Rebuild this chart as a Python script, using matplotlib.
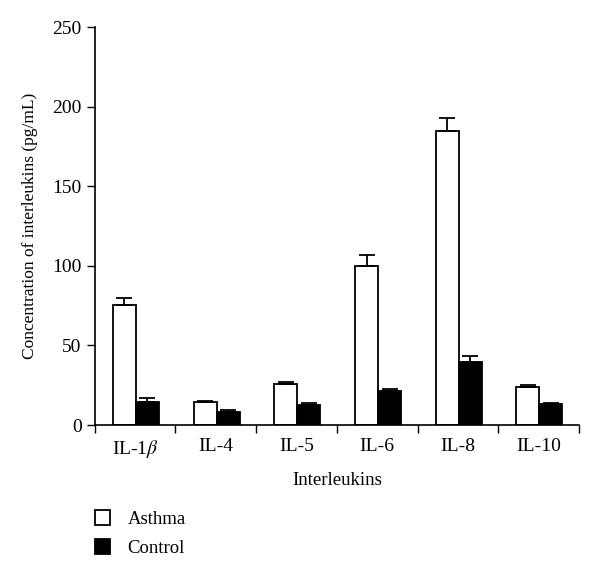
import numpy as np
import matplotlib.pyplot as plt

plt.rcParams['font.family'] = ['Liberation Serif', 'DejaVu Serif']
plt.rcParams['mathtext.fontset'] = 'stix'

labels = ['IL-1$\\beta$', 'IL-4', 'IL-5', 'IL-6', 'IL-8', 'IL-10']
asthma = [75.4, 14.2, 25.8, 100.0, 185.0, 24.0]
asthma_err = [4.4, 1.1, 1.2, 6.8, 7.7, 0.9]
control = [14.6, 8.4, 12.6, 21.6, 39.8, 13.0]
control_err = [2.2, 0.8, 1.0, 1.0, 3.7, 0.8]

fig = plt.figure(figsize=(6, 5.76), dpi=100, facecolor='w')
ax = fig.add_axes([0.158, 0.262, 0.807, 0.691])

x = np.arange(len(labels))
w = 0.285
ekw = dict(lw=1.3, capsize=5.5, capthick=1.3, ecolor='k')
ax.bar(x - w / 2 + 0.01, asthma, w, color='white', edgecolor='k', lw=1.3, label='Asthma',
       yerr=[np.zeros(6), asthma_err], error_kw=ekw)
ax.bar(x + w / 2 + 0.01, control, w, color='black', edgecolor='k', lw=1.3, label='Control',
       yerr=[np.zeros(6), control_err], error_kw=ekw)

ax.set_xlim(-0.5, 5.5)
ax.set_ylim(0, 250)
ax.set_yticks([0, 50, 100, 150, 200, 250])
ax.set_xticks(x)
ax.set_xticklabels(labels)
ax.set_xticks(np.arange(-0.5, 6, 1), minor=True)
ax.tick_params(axis='x', which='major', length=0, pad=9, labelsize=14)
ax.tick_params(axis='x', which='minor', length=6, direction='out', width=1)
ax.tick_params(axis='y', length=6, width=1, labelsize=14)
for s in ['top', 'right']:
    ax.spines[s].set_visible(False)
for s in ['left', 'bottom']:
    ax.spines[s].set_linewidth(1.2)

ax.set_xlabel('Interleukins', fontsize=13.5, labelpad=9)
ax.set_ylabel('Concentration of interleukins (pg/mL)', fontsize=12.5, labelpad=10)

fig.legend(loc='upper left', bbox_to_anchor=(0.145, 0.128), frameon=False,
           fontsize=13.5, handlelength=0.85, handleheight=0.85, handletextpad=0.9,
           labelspacing=0.6, borderaxespad=0)

fig.savefig('out.png', dpi=100)
